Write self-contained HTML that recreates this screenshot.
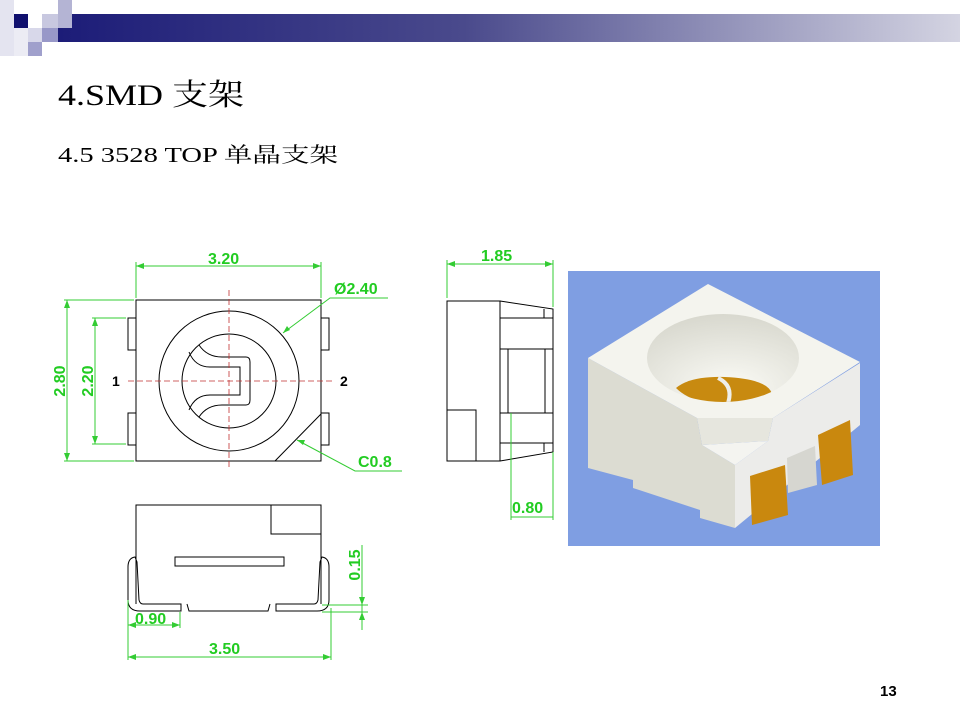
<!DOCTYPE html>
<html><head><meta charset="utf-8"><style>
html,body{margin:0;padding:0;background:#fff;width:960px;height:720px;overflow:hidden}
</style></head><body>
<svg width="960" height="720" viewBox="0 0 960 720" xmlns="http://www.w3.org/2000/svg">
<defs>
<linearGradient id="bar" x1="0" x2="1" y1="0" y2="0">
<stop offset="0" stop-color="#1c1c78"/><stop offset="0.45" stop-color="#4a4a8c"/><stop offset="1" stop-color="#d4d4e2"/>
</linearGradient>
<radialGradient id="cav" cx="0.55" cy="0.85" r="0.9"><stop offset="0" stop-color="#fbfbf6"/><stop offset="1" stop-color="#d6d6cc"/></radialGradient>
<clipPath id="cc"><ellipse cx="723" cy="358" rx="76" ry="44"/></clipPath>
</defs>
<!-- header -->
<rect x="58" y="14" width="902" height="28" fill="url(#bar)"/>
<rect x="0" y="0" width="14" height="56" fill="#e4e4f0"/>
<rect x="14" y="14" width="14" height="14" fill="#10106e"/>
<rect x="28" y="14" width="14" height="14" fill="#ffffff"/>
<rect x="42" y="14" width="16" height="14" fill="#c8c8e0"/>
<rect x="58" y="0" width="14" height="28" fill="#b4b4d4"/>
<rect x="42" y="28" width="16" height="14" fill="#9898c8"/>
<rect x="28" y="28" width="14" height="14" fill="#d8d8ea"/>
<rect x="28" y="42" width="14" height="14" fill="#a0a0cc"/>
<rect x="14" y="28" width="14" height="28" fill="#ececf4"/>

<text x="58" y="105" font-family="'Liberation Serif', 'Noto Serif CJK SC', serif" font-size="30" fill="#000" textLength="186" lengthAdjust="spacingAndGlyphs">4.SMD 支架</text>
<text x="58" y="162" font-family="'Liberation Serif', 'Noto Serif CJK SC', serif" font-size="21" fill="#000" textLength="280" lengthAdjust="spacingAndGlyphs">4.5 3528 TOP 单晶支架</text>

<g fill="none" stroke="#000" stroke-width="1">
<rect x="136" y="300" width="185" height="161"/>
<rect x="128" y="318" width="8" height="32"/><rect x="128" y="413" width="8" height="32"/>
<rect x="321" y="318" width="8" height="32"/><rect x="321" y="413" width="8" height="32"/>
<circle cx="229" cy="381" r="70"/>
<circle cx="229" cy="381" r="47"/>
<path d="M199 345 Q207 357 222 357 L246 357 Q250 357 250 362 L250 400 Q250 405 246 405 L222 405 Q207 405 199 417"/>
<path d="M189 352 Q195 367 210 367 L240 367 L240 395 L210 395 Q195 395 189 410"/>
<line x1="321" y1="414" x2="275" y2="461"/>
<rect x="447" y="301" width="53" height="160"/>
<rect x="447" y="410" width="29" height="51"/>
<path d="M500 301 L553 309 L553 452 L500 461"/>
<line x1="500" y1="318" x2="553" y2="318"/><line x1="500" y1="349" x2="553" y2="349"/>
<line x1="500" y1="413" x2="553" y2="413"/><line x1="500" y1="443" x2="553" y2="443"/>
<line x1="508" y1="349" x2="508" y2="413"/><line x1="545" y1="349" x2="545" y2="413"/>
<line x1="544" y1="309" x2="544" y2="318"/><line x1="544" y1="443" x2="544" y2="452"/>
<path d="M136 604 L136 505 L321 505 L321 604"/>
<rect x="271" y="505" width="50" height="29"/>
<rect x="175" y="557" width="109" height="9"/>
<path d="M135 557 Q128 558 128 567 L128 600 Q128 611 140 611 L181 611 L181 604 L143 604 Q140 604 139 600 L137 562 Z"/>
<path d="M322 557 Q329 558 329 567 L329 600 Q329 611 317 611 L276 611 L276 604 L314 604 Q317 604 318 600 L320 562 Z"/>
<path d="M187 604 L189 611 L268 611 L270 604"/>
</g>
<g stroke="#c03030" stroke-width="0.8" stroke-dasharray="6,3">
<line x1="229" y1="290" x2="229" y2="470"/><line x1="128" y1="381" x2="335" y2="381"/>
</g>
<g font-family="Liberation Sans, sans-serif" font-weight="bold" font-size="14" fill="#000">
<text x="112" y="386">1</text><text x="340" y="386">2</text>
</g>
<g stroke="#33cc33" stroke-width="1" fill="none">
<line x1="136" y1="298" x2="136" y2="262"/><line x1="321" y1="298" x2="321" y2="262"/>
<line x1="136" y1="266" x2="321" y2="266"/>
<line x1="64" y1="300" x2="134" y2="300"/><line x1="64" y1="461" x2="134" y2="461"/><line x1="67" y1="300" x2="67" y2="461"/>
<line x1="92" y1="318" x2="126" y2="318"/><line x1="92" y1="444" x2="126" y2="444"/><line x1="95" y1="318" x2="95" y2="444"/>
<path d="M283 333 L330 298 L388 298"/>
<path d="M297 440 L355 471 L402 471"/>
<line x1="447" y1="298" x2="447" y2="260"/><line x1="553" y1="307" x2="553" y2="260"/><line x1="447" y1="264" x2="553" y2="264"/>
<line x1="511" y1="413" x2="511" y2="520"/><line x1="553" y1="452" x2="553" y2="520"/><line x1="511" y1="517" x2="553" y2="517"/>
<line x1="128" y1="600" x2="128" y2="660"/><line x1="331" y1="608" x2="331" y2="660"/><line x1="128" y1="657" x2="331" y2="657"/>
<line x1="180" y1="612" x2="180" y2="628"/><line x1="128" y1="625" x2="180" y2="625"/>
<line x1="322" y1="605" x2="368" y2="605"/><line x1="322" y1="612" x2="368" y2="612"/><line x1="362" y1="545" x2="362" y2="630"/>
</g>
<g fill="#33cc33">
<path d="M136 266 l8 -3 v6z M321 266 l-8 -3 v6z M67 300 l-3 8 h6z M67 461 l-3 -8 h6z M95 318 l-3 8 h6z M95 444 l-3 -8 h6z M283 333 l4 -7 l3 4z M297 440 l8 0 l-2 5z M447 264 l8 -3 v6z M553 264 l-8 -3 v6z M128 657 l8 -3 v6z M331 657 l-8 -3 v6z M128 625 l8 -3 v6z M180 625 l-8 -3 v6z M362 605 l-3 -8 h6z M362 612 l-3 8 h6z"/>
</g>
<g font-family="Liberation Sans, sans-serif" font-weight="bold" font-size="16" fill="#22cc22">
<text x="208" y="264">3.20</text>
<text x="334" y="294">Ø2.40</text>
<text x="358" y="467">C0.8</text>
<text x="481" y="261">1.85</text>
<text x="512" y="513">0.80</text>
<text x="135" y="624">0.90</text>
<text x="209" y="654">3.50</text>
<text transform="translate(65,381) rotate(-90)" text-anchor="middle">2.80</text>
<text transform="translate(93,381) rotate(-90)" text-anchor="middle">2.20</text>
<text transform="translate(360,565) rotate(-90)" text-anchor="middle">0.15</text>
</g>
<rect x="568" y="271" width="312" height="275" fill="#7f9ee2"/>
<polygon points="588,358 697,418 702,445 735,465 735,528 700,518 700,510 633,488 633,480 588,468" fill="#dcdcd2"/>
<polygon points="735,465 768,441 773,418 860,363 860,425 735,528" fill="#ececea"/>
<polygon points="697,418 773,418 768,441 702,445" fill="#e6e6de"/>
<polygon points="702,445 768,441 735,465" fill="#f4f4f0"/>
<polygon points="588,358 708,284 860,362 773,418 697,418" fill="#f4f4ee"/>
<ellipse cx="723" cy="358" rx="76" ry="44" fill="url(#cav)"/>
<g clip-path="url(#cc)">
<path d="M676 388 Q690 376 725 377 Q768 379 772 394 Q760 410 720 405 Q690 402 676 388Z" fill="#c88a10"/>
<path d="M718 378 Q735 386 727 406" stroke="#eeeeea" stroke-width="4" fill="none"/>
</g>
<polygon points="787,458 815,446 817,485 788,493" fill="#d6d6d0"/>
<polygon points="750,476 785,465 788,515 752,525" fill="#c9880e"/>
<polygon points="818,435 850,420 853,475 822,485" fill="#c9880e"/>

<text x="880" y="696" font-family="Liberation Sans, sans-serif" font-weight="bold" font-size="15" fill="#000">13</text>
</svg>
</body></html>
